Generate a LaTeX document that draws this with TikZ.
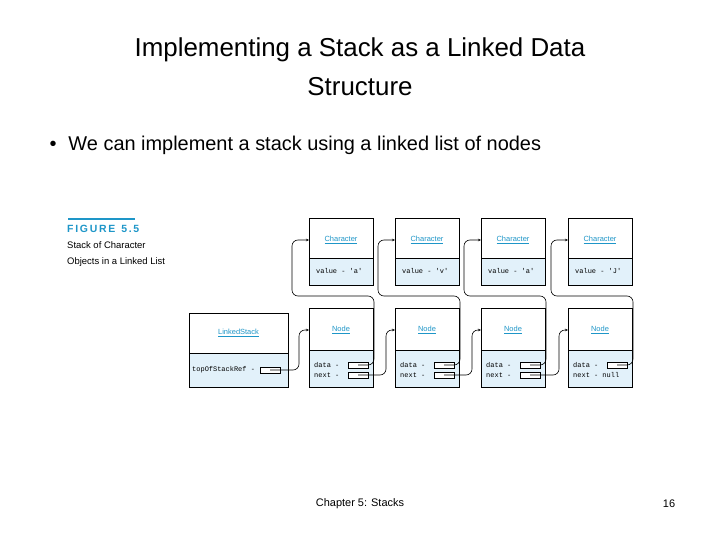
\documentclass[tikz,border=0pt]{standalone}
\usepackage{fontspec}
\setmainfont{Liberation Sans}
\setmonofont{Liberation Mono}
\usetikzlibrary{arrows.meta,calc}
\definecolor{boxfill}{RGB}{226,241,250}
\definecolor{figblue}{RGB}{30,150,200}
\tikzset{
  half/.style={rectangle, draw, fill=boxfill, inner sep=0pt},
  cls/.style={font=\fontsize{7.5}{8}\selectfont, text=figblue},
  fld/.style={font=\ttfamily\fontsize{7}{8}\selectfont, anchor=west, inner sep=0pt},
  slot/.style={rectangle, draw, fill=white, minimum width=20bp, minimum height=6bp, inner sep=0pt},
  ptr/.style={draw, semithick, rounded corners=6bp, -{Stealth[length=3bp,width=2.5bp]}}
}
\begin{document}
\begin{tikzpicture}[x=1bp, y=-1bp]
  \useasboundingbox (0,0) rectangle (720,540);
  % Slide text
  \node (title) at (360,67) [align=center, font=\fontsize{26}{39}\selectfont]
    {Implementing a Stack as a Linked Data\\Structure};
  \node (bullet) at (46,145) [anchor=west, font=\fontsize{20}{24}\selectfont]
    {\textbullet\hspace{12bp}We can implement a stack using a linked list of nodes};
  \node (foot) at (360,504) [font=\fontsize{11}{13}\selectfont] {Chapter 5: Stacks};
  \node (page) at (669,504) [font=\fontsize{11}{13}\selectfont] {16};
  % Figure caption
  \draw[figblue, line width=1.5bp] (68,219) -- (135,219);
  \node (fig) at (67,229) [anchor=west, inner sep=0pt, text=figblue,
    font=\bfseries\fontsize{10.5}{12}\selectfont] {F\,I\,G\,U\,R\,E\ \ 5\,.\,5};
  \node (cap) at (67,254) [anchor=west, inner sep=0pt, align=left,
    font=\fontsize{9.5}{16}\selectfont] {Stack of Character\\Objects in a Linked List};
  % LinkedStack object
  \draw[thick, fill=white] (189,313) rectangle (288,387);
  \node[half, minimum width=99bp, minimum height=34bp, anchor=north west] (lsb) at (189,353) {};
  \node[cls] (lsname) at (238.5,333) {\underline{LinkedStack}};
  \node[fld] (lsf) at (192,370) {topOfStackRef -};
  \node[slot] (top) at (270,370) {};
  % Character and Node objects
  \foreach \i/\x/\v in {1/309/a, 2/395/v, 3/481/a, 4/568/J} {
    \draw[thick, fill=white] (\x,218) rectangle ++(64,67);
    \node[half, minimum width=64bp, minimum height=27bp, anchor=north west] (cb\i) at (\x,258) {};
    \node[cls] (cn\i) at ($(\x,240)+(32,0)$) {\underline{Character}};
    \node[fld] (cv\i) at ($(\x,271)+(7,0)$) {value - '\v'};
    \coordinate (c\i) at (\x,240);
    \draw[thick, fill=white] (\x,308) rectangle ++(64,79);
    \node[half, minimum width=64bp, minimum height=37bp, anchor=north west] (nb\i) at (\x,350) {};
    \node[cls] (nn\i) at ($(\x,330)+(32,0)$) {\underline{Node}};
    \coordinate (n\i) at (\x,330);
    \node[fld] (nd\i) at ($(\x,365)+(5,0)$) {data -};
    \node[slot] (d\i) at ($(\x,365)+(49,0)$) {};
  }
  \foreach \i/\x in {1/309, 2/395, 3/481} {
    \node[fld] (nx\i) at ($(\x,375)+(5,0)$) {next -};
    \node[slot] (s\i) at ($(\x,375)+(49,0)$) {};
  }
  \node[fld] (nx4) at ($(568,375)+(5,0)$) {next - null};
  % Draw pointers
  \path[ptr] (top.center) -| ($(n1)+(-10,0)$) -- (n1);
  \foreach \i in {1,2,3,4} {
    \path[ptr] (d\i.center) -- ++(16,0) |- ($(c\i)+(-17,56)$) |- (c\i);
  }
  \foreach \i/\j in {1/2, 2/3, 3/4} {
    \path[ptr] (s\i.center) -| ($(n\j)+(-9,0)$) -- (n\j);
  }
\end{tikzpicture}
\end{document}
